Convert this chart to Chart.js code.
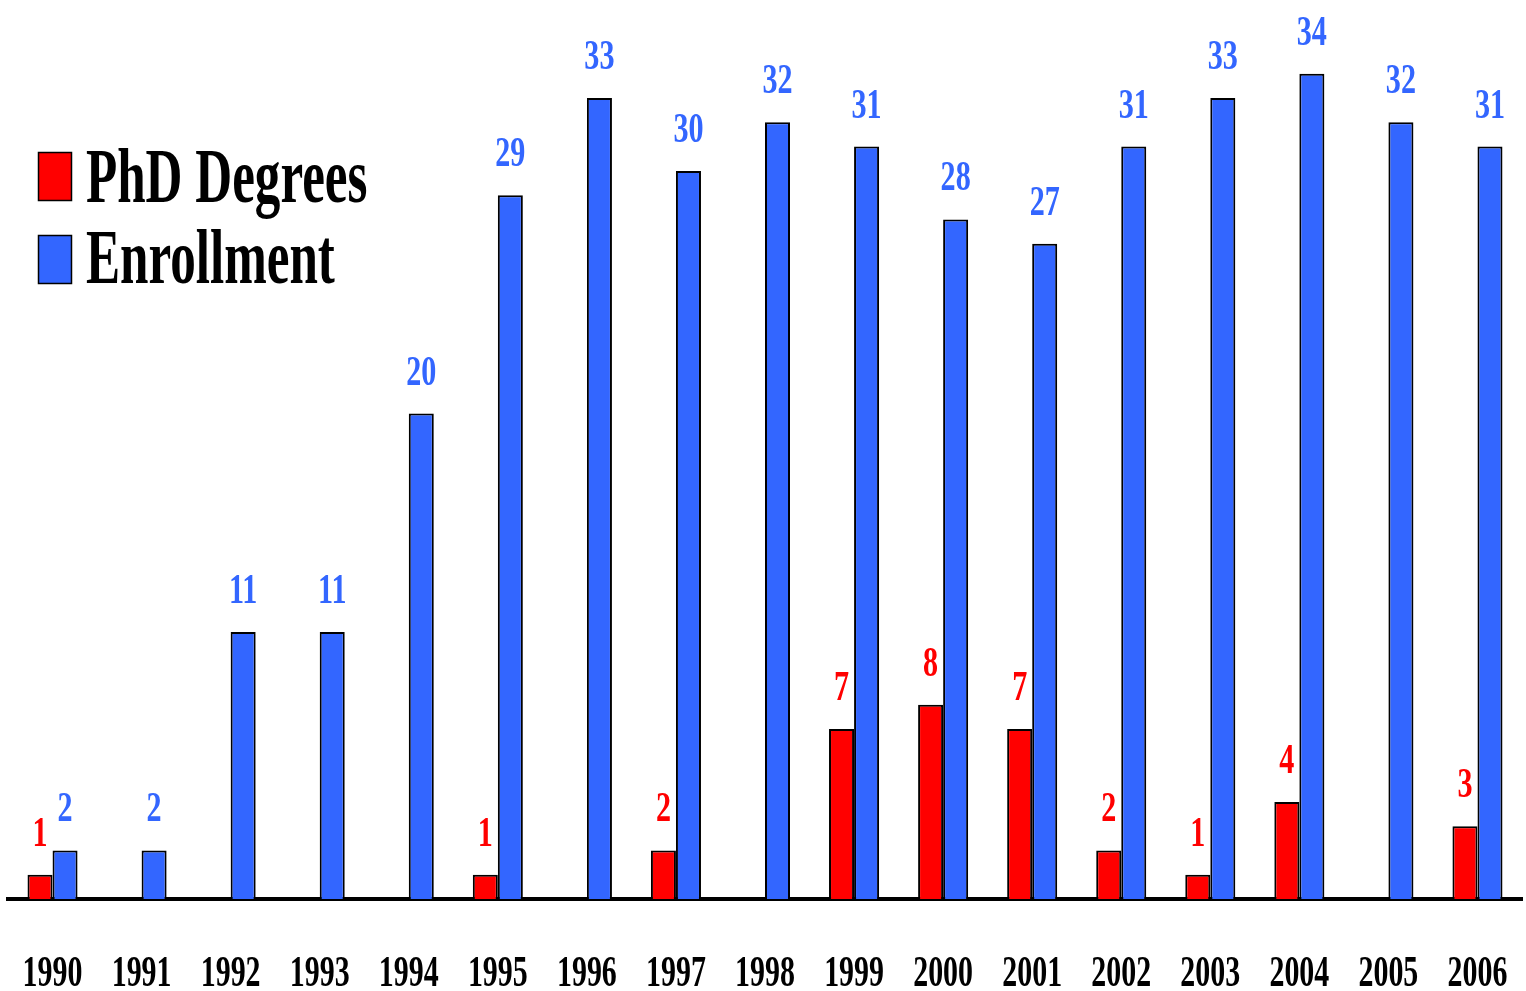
<!DOCTYPE html>
<html>
<head>
<meta charset="utf-8">
<title>PhD Degrees and Enrollment, 1990–2006</title>
<script src="https://cdn.jsdelivr.net/npm/chart.js@4.4.1/dist/chart.umd.min.js"></script>
<style>
  html, body { margin: 0; padding: 0; background: #ffffff; }
  #wrap { position: relative; width: 1526px; height: 991px; }
</style>
</head>
<body>
<div id="wrap"><canvas id="chart" width="1526" height="991"></canvas></div>
<script>
// Years on the x axis
const years = ['1990','1991','1992','1993','1994','1995','1996','1997','1998',
               '1999','2000','2001','2002','2003','2004','2005','2006'];
// PhD degrees awarded per year (0 = none awarded, no label shown)
const phdDegrees = [1, 0, 0, 0, 0, 1, 0, 2, 0, 7, 8, 7, 2, 1, 4, 0, 3];
// Students enrolled per year
const enrollment = [2, 2, 11, 11, 20, 29, 33, 30, 32, 31, 28, 27, 31, 33, 34, 32, 31];

const RED = '#ff0000';
const BLUE = '#3366ff';
const FONT = '"Liberation Serif", "Times New Roman", serif';

// Draws narrow (horizontally condensed) bold serif text
function narrowText(ctx, text, x, y, size, color, align, squeeze) {
  ctx.save();
  ctx.font = 'bold ' + size + 'px ' + FONT;
  ctx.fillStyle = color;
  ctx.textBaseline = 'alphabetic';
  ctx.translate(x, y);
  ctx.scale(squeeze, 1);
  ctx.textAlign = align;
  ctx.fillText(text, 0, 0);
  ctx.restore();
}

// Value labels above bars, year labels under the axis, and the key
const annotate = {
  id: 'annotate',
  afterDatasetsDraw(chart) {
    const ctx = chart.ctx;
    chart.data.datasets.forEach((ds, i) => {
      const meta = chart.getDatasetMeta(i);
      meta.data.forEach((bar, j) => {
        const v = ds.data[j];
        if (!v) return;
        narrowText(ctx, String(v), bar.x, bar.y - 29, 43, ds.labelColor, 'center', 0.7);
      });
    });
  },
  afterDraw(chart) {
    const ctx = chart.ctx;
    const xs = chart.scales.x;
    years.forEach((yr, i) => {
      narrowText(ctx, yr, xs.getPixelForValue(i), 986, 44, '#000000', 'center', 0.68);
    });
    // key
    const items = [
      { label: 'PhD Degrees', color: RED, top: 152, base: 202 },
      { label: 'Enrollment', color: BLUE, top: 235, base: 283 }
    ];
    items.forEach(it => {
      ctx.save();
      ctx.fillStyle = it.color;
      ctx.fillRect(38, it.top, 34, 49);
      ctx.strokeStyle = '#000000';
      ctx.lineWidth = 1.5;
      ctx.strokeRect(38.5, it.top + 0.5, 33, 48);
      ctx.restore();
      narrowText(ctx, it.label, 86, it.base, 78, '#000000', 'left', 0.655);
    });
  }
};

new Chart(document.getElementById('chart'), {
  type: 'bar',
  data: {
    labels: years,
    datasets: [
      { label: 'PhD Degrees', data: phdDegrees, backgroundColor: RED, labelColor: RED,
        borderColor: '#000000', borderWidth: 2, borderSkipped: 'bottom' },
      { label: 'Enrollment', data: enrollment, backgroundColor: BLUE, labelColor: BLUE,
        borderColor: '#000000', borderWidth: 2, borderSkipped: 'bottom' }
    ]
  },
  options: {
    responsive: false,
    animation: false,
    layout: { padding: { left: 8, right: 4, top: 1, bottom: 92 } },
    datasets: { bar: { categoryPercentage: 0.562, barPercentage: 1.0 } },
    plugins: { legend: { display: false }, tooltip: { enabled: false } },
    scales: {
      x: {
        grid: { display: false, drawTicks: false },
        border: { display: true, color: '#000000', width: 4 },
        ticks: { display: false }
      },
      y: {
        display: false,
        min: 0,
        max: 37
      }
    }
  },
  plugins: [annotate]
});
</script>
</body>
</html>
